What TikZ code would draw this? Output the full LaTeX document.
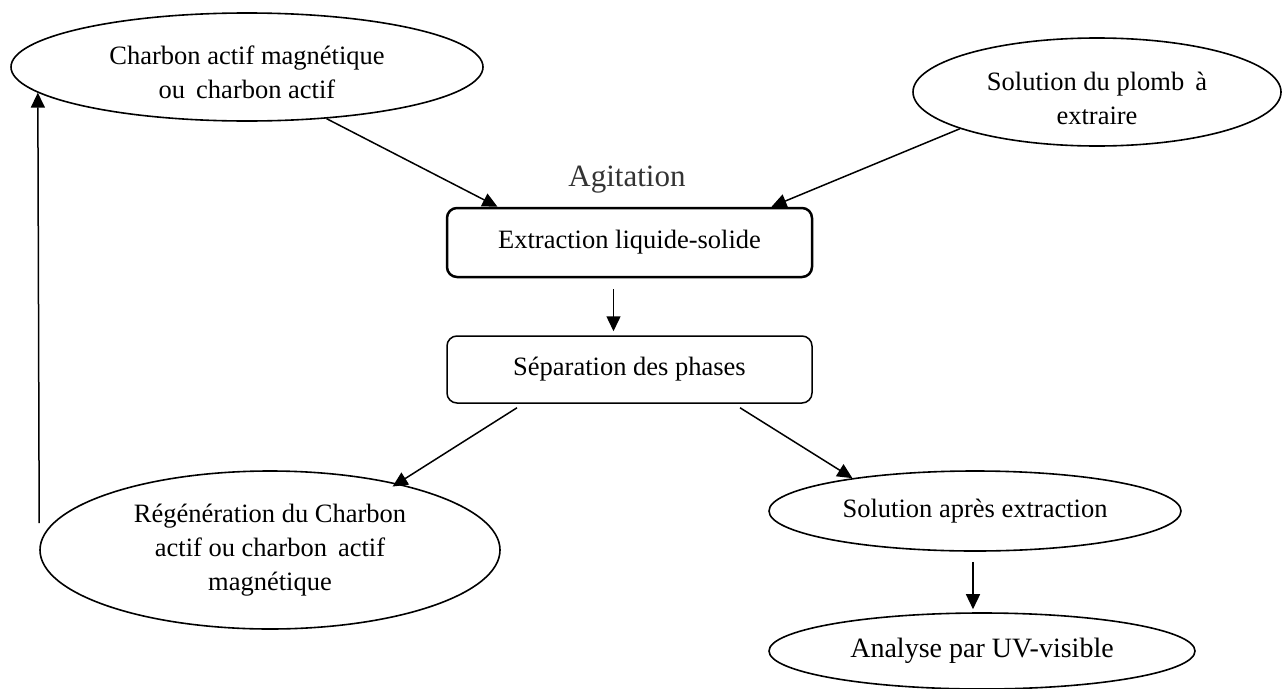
\documentclass[tikz,border=0pt]{standalone}
\usepackage{fontspec}
\setmainfont{Liberation Serif}
\usetikzlibrary{shapes.geometric,arrows.meta}
\tikzset{
  txt/.style={font=\fontsize{26.5}{34}\selectfont, align=center},
  ell/.style={draw, ellipse, line width=1.6pt, inner sep=0pt, txt},
  boxa/.style={draw, rounded corners=10pt, inner sep=0pt, txt},
  arr/.style={line width=1.5pt, -{Triangle[length=15pt,width=14pt]}}
}
\begin{document}
\begin{tikzpicture}[x=1pt,y=-1pt]
\useasboundingbox (0,0) rectangle (1282,688);
\node[ell, minimum width=472pt, minimum height=108pt,
  label={[txt,yshift=-5pt]center:{Charbon actif magnétique\\ou\, charbon actif}}] (e1) at (247,67) {};
\node[ell, minimum width=368pt, minimum height=108pt,
  label={[txt,yshift=-6pt]center:{Solution du plomb\, à\\extraire}}] (e2) at (1097,92) {};
\node[font=\fontsize{31}{36}\selectfont, text=black!80] (ag) at (627,180) {Agitation};
\node[boxa, line width=2.5pt, minimum width=365pt, minimum height=69pt] (b1) at (629.5,242.5) {Extraction liquide-solide};
\node[boxa, line width=1.5pt, minimum width=365pt, minimum height=67pt] (b2) at (629.5,369.5) {Séparation des phases};
\node[ell, minimum width=460pt, minimum height=158pt] (e3) at (270,550) {Régénération du Charbon\\actif ou charbon\, actif\\magnétique};
\node[ell, minimum width=412pt, minimum height=80pt] (e4) at (975,511) {Solution après extraction};
\node[ell, minimum width=426pt, minimum height=76pt, font=\fontsize{28}{34}\selectfont] (e5) at (982,651) {Analyse par UV-visible};
\draw[arr] (e1.-33) -- ([xshift=-132pt]b1.north);
\draw[arr] (e2.195) -- ([xshift=142pt]b1.north);
\draw[arr] ([xshift=-16pt,yshift=-11pt]b1.south) -- ([xshift=-16pt,yshift=4pt]b2.north);
\draw[arr] ([xshift=-112.5pt,yshift=-4pt]b2.south) -- ([xshift=4pt,yshift=-5pt]e3.30);
\draw[arr] ([xshift=110.5pt,yshift=-4pt]b2.south) -- (e4.165);
\draw[arr] ([xshift=-2pt,yshift=-10pt]e4.south) -- ([xshift=-9pt,yshift=3pt]e5.north);
\draw[arr] ([yshift=27pt]e3.west) -- (e1.187.2);
\end{tikzpicture}
\end{document}
